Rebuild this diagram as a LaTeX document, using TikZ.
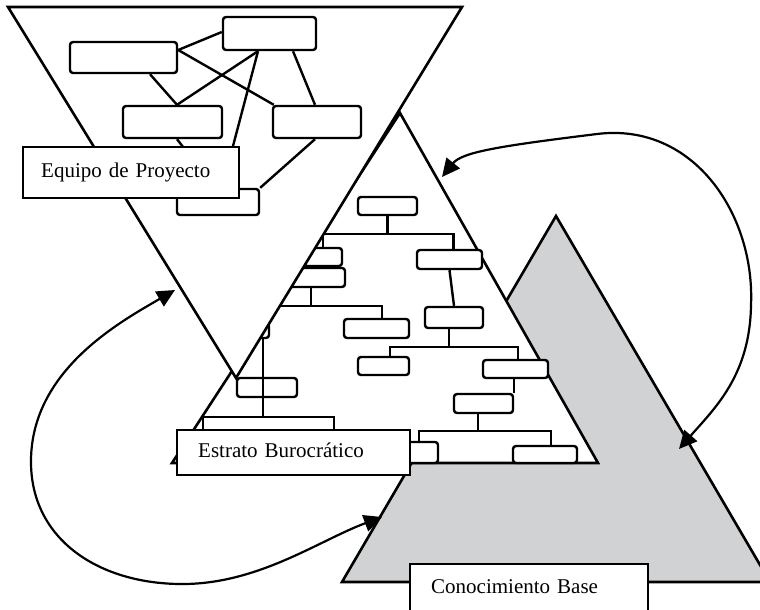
\documentclass[tikz,border=0pt]{standalone}
\usepackage{fontspec}
\setmainfont{Liberation Serif}
\usetikzlibrary{arrows.meta,calc}
\definecolor{kgray}{RGB}{209,210,212}
\begin{document}
\begin{tikzpicture}[x=1pt,y=-1pt,
  tri/.style={draw=black,line width=2.6pt,line join=miter},
  rbox/.style 2 args={draw=black,line width=2.4pt,rounded corners=3pt,fill=white,inner sep=0pt,minimum width=#1pt,minimum height=#2pt},
  conn/.style={draw=black,line width=2.4pt},
  lbl/.style={draw=black,line width=2.4pt,fill=white,anchor=north west,inner xsep=#1pt,inner ysep=0pt,align=left,font=\fontsize{21}{24}\selectfont,text height=14pt,text depth=5pt},
  arr/.style={line width=2.2pt,{Triangle[length=18pt,width=17pt]}-{Triangle[length=18pt,width=17pt]}}
]
\fill[white] (0,0) rectangle (760,610);
\useasboundingbox (0,0) rectangle (760,610);

% Conocimiento Base (gray triangle)
\draw[tri,fill=kgray] (556,216) -- (770,582) -- (342,582) -- cycle;

% Estrato Burocratico triangle
\draw[tri,fill=white] (400,113) -- (598,463) -- (172,463) -- cycle;

% org chart nodes
\node[rbox={59}{18}] (T1) at (387.5,206) {};
\node[rbox={65}{19}] (R1) at (449.5,259.5) {};
\node[rbox={38}{18}] (L1) at (323,257) {};
\node[rbox={68}{19}] (L2) at (311,277.5) {};
\node[rbox={65}{19}] (M1) at (376.5,328.5) {};
\node[rbox={26}{15}] (LL) at (256,330.5) {};
\node[rbox={60}{19}] (B1) at (267,387.5) {};
\node[rbox={58}{21}] (R2) at (454,317.5) {};
\node[rbox={51}{18}] (M2) at (383.5,366) {};
\node[rbox={65}{18}] (R3) at (515.5,369) {};
\node[rbox={59}{19}] (R4) at (483.5,403.5) {};
\node[rbox={38}{21}] (L5) at (419,452.5) {};
\node[rbox={64}{17}] (R5) at (545,454.5) {};

% org chart junctions
\coordinate (j1) at ($(T1.south)+(0,18)$);
\coordinate (j2) at ($(L2.south)+(0,17.5)$);
\coordinate (j3) at ($(LL.south)+(7,78)$);
\coordinate (j4) at ($(R2.south)+(-5,18)$);
\coordinate (j5) at ($(R4.south)+(-5.5,17)$);
\coordinate (h1) at (203,431);
\coordinate (h2) at (334,431);

% org chart connectors
\draw[conn] (T1.south) -- (j1) -| (L1.north);
\draw[conn] (j1) -| ($(R1.north)+(4,0)$);
\draw[conn] (L2.south) -- (j2) -| ($(M1.north)+(5.5,0)$);
\draw[conn] (j2) -| (LL.north);
\draw[conn] (R1.south) -- (R2.north);
\draw[conn] ($(R2.south)+(-5,0)$) -- (j4) -| ($(M2.north)+(6.5,0)$);
\draw[conn] (j4) -| ($(R3.north)+(2.5,0)$);
\draw[conn] (R3.south -| R4.north east) -- (R4.north east);
\draw[conn] ($(R4.south)+(-5.5,0)$) -- (j5) -| (L5.north);
\draw[conn] (j5) -| ($(R5.north)+(6,0)$);
\draw[conn] ($(LL.south)+(7,0)$) -- (j3);
\draw[conn] (j3) -| (h1);
\draw[conn] (j3) -| (h2);

% Equipo de Proyecto (inverted triangle)
\draw[tri,fill=white] (8,7) -- (462,7) -- (236,378) -- cycle;

% network nodes
\node[rbox={107}{31}] (A) at (123.5,57.5) {};
\node[rbox={93}{33}] (B) at (269.5,33.5) {};
\node[rbox={99}{32}] (C) at (172.5,122) {};
\node[rbox={88}{32}] (D) at (317,122) {};
\node[rbox={82}{26}] (E) at (218,202) {};

% network connectors
\draw[conn] ($(A.east)+(0,-7.5)$) -- ($(B.west)+(0,-1.5)$);
\draw[conn] ($(A.east)+(0,-7.5)$) -- ($(D.north west)+(2,0)$);
\draw[conn] ($(A.south)+(26.5,0)$) -- ($(C.north)+(4.5,0)$);
\draw[conn] ($(B.south)+(-11.5,0)$) -- ($(C.north)+(4.5,0)$);
\draw[conn] ($(B.south)+(-11.5,0)$) -- ($(E.north)+(4,0)$);
\draw[conn] ($(B.south)+(23.5,0)$) -- ($(D.north)+(-2,0)$);
\draw[conn] ($(C.south)+(4.5,0)$) -- ($(E.north)+(-3,0)$);
\draw[conn] ($(D.south)+(-2,0)$) -- (E.north east);

% labels
\node[lbl=18,text width=180pt,minimum height=51pt] (eq) at (22,146) {Equipo de Proyecto};
\node[lbl=21,text width=191pt,minimum height=45pt] (eb) at (176,429) {Estrato Burocrático};
\node[lbl=21,text width=196pt,minimum height=50pt] (cb) at (409,563) {Conocimiento Base};

% arrows
\coordinate (ra) at (442,177);
\coordinate (rb) at (679,449);
\coordinate (la) at (175,290);
\coordinate (lb) at (382,517);
\draw[arr] (ra) .. controls (462,152) and (500,146) .. (597,134)
  .. controls (694,122) and (755,215) .. (751,305)
  .. controls (750,375) and (715,408) .. (rb);
\draw[arr] (la) .. controls (120,322) and (32,370) .. (31,460)
  .. controls (30,540) and (100,585) .. (185,584)
  .. controls (260,583) and (320,540) .. (lb);
\end{tikzpicture}
\end{document}
